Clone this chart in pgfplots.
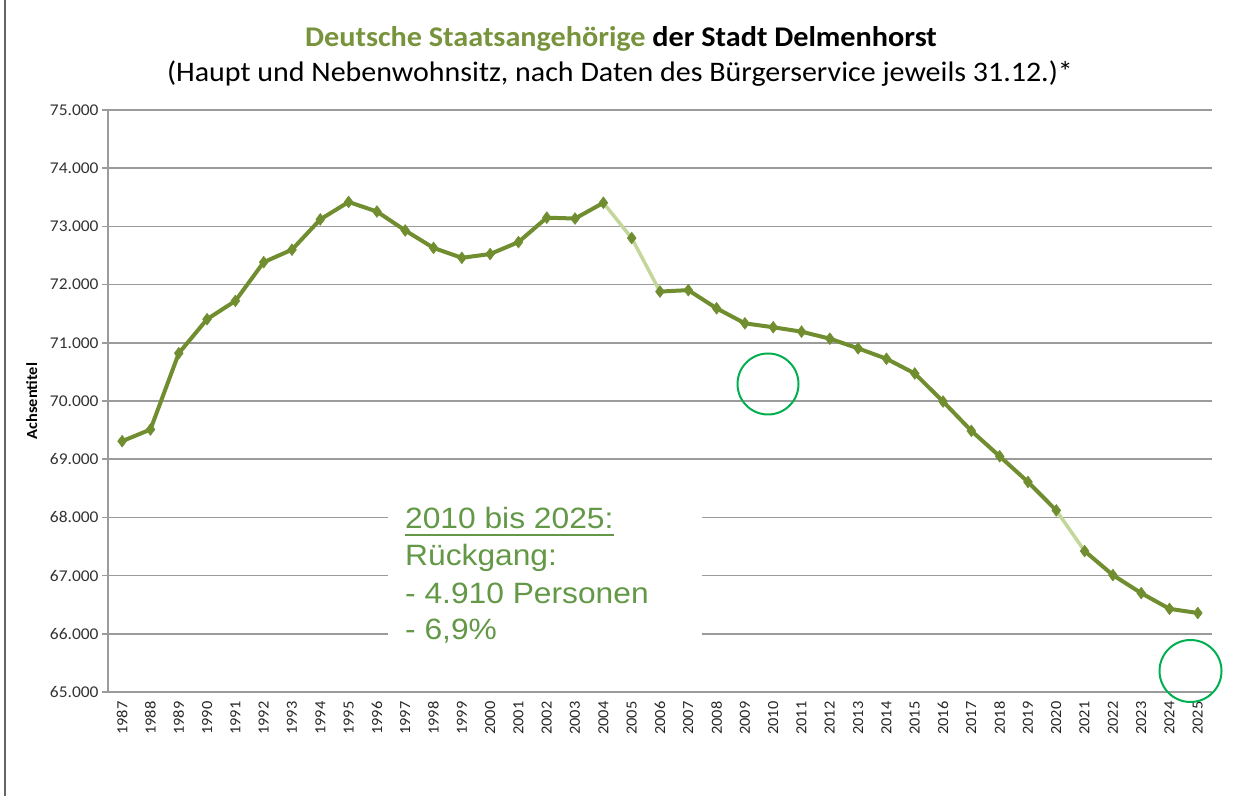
\documentclass[border=0pt]{standalone}
\usepackage{fontspec}
\setmainfont{Carlito}[FakeStretch=1.06]
\newfontfamily\arialf{Liberation Sans}[FakeStretch=1.08]
\usepackage{pgfplots}
\pgfplotsset{compat=1.18}
\usepackage{pgfplotstable}
\definecolor{linegreen}{RGB}{112,142,48}
\definecolor{lightgreen}{RGB}{196,215,155}
\definecolor{titlegreen}{RGB}{119,147,60}
\definecolor{annogreen}{RGB}{98,152,70}
\definecolor{circgreen}{RGB}{0,176,80}
\definecolor{gridgray}{RGB}{155,155,155}

\pgfplotstableread{
year value
1987 69310
1988 69510
1989 70820
1990 71405
1991 71720
1992 72385
1993 72600
1994 73120
1995 73420
1996 73255
1997 72930
1998 72630
1999 72460
2000 72525
2001 72730
2002 73150
2003 73135
2004 73405
2005 72800
2006 71880
2007 71905
2008 71592
2009 71334
2010 71267
2011 71191
2012 71071
2013 70904
2014 70726
2015 70473
2016 69991
2017 69487
2018 69050
2019 68609
2020 68120
2021 67422
2022 67009
2023 66699
2024 66429
2025 66357
}\datatable

\begin{document}
\begin{tikzpicture}
\path[use as bounding box] (0,0) rectangle (1234bp,796bp);
\fill[white] (0,0) rectangle (1234bp,796bp);
\draw[black!60, line width=2bp] (5bp,0) -- (5bp,796bp);

\node[font=\bfseries\fontsize{28.6}{32}\selectfont] at (621bp,757bp)
  {\textcolor{titlegreen}{Deutsche Staatsangehörige} der Stadt Delmenhorst};
\node[font=\fontsize{28.4}{32}\selectfont] at (620bp,722bp)
  {(Haupt und Nebenwohnsitz, nach Daten des Bürgerservice jeweils 31.12.)*};

\begin{axis}[
  at={(108bp,104bp)}, anchor=south west,
  scale only axis, width=1104bp, height=582bp,
  xmin=1986.5, xmax=2025.5, ymin=65000, ymax=75000,
  xtick={1987,...,2025},
  ytick={65000,66000,...,75000},
  scaled y ticks=false,
  axis lines*=left,
  axis line style={gridgray, line width=1.6bp},
  ymajorgrids,
  major grid style={gridgray, line width=1.6bp},
  tick align=outside,
  major tick length=6bp,
  ytick style={gridgray, line width=1.6bp},
  xtick style={draw=none},
  /pgf/number format/assume math mode=true,
  yticklabel style={font=\fontsize{16.5}{17}\selectfont, text=black!80,
    /pgf/number format/1000 sep={.}},
  xticklabel style={font=\fontsize{15.5}{16}\selectfont, text=black!85,
    rotate=90, anchor=east, /pgf/number format/1000 sep={}},
  ylabel={Achsentitel},
  ylabel style={font=\bfseries\fontsize{15.5}{16}\selectfont,
    at={(axis description cs:-0.069,0.5)}, anchor=center},
  line join=round,
]
\addplot[lightgreen, line width=3.5bp, restrict x to domain=2004:2006] table[x=year,y=value] {\datatable};
\addplot[lightgreen, line width=3.5bp, restrict x to domain=2020:2021] table[x=year,y=value] {\datatable};
\addplot[linegreen, line width=4bp, restrict x to domain=1987:2004] table[x=year,y=value] {\datatable};
\addplot[linegreen, line width=4bp, restrict x to domain=2006:2020] table[x=year,y=value] {\datatable};
\addplot[linegreen, line width=4bp, restrict x to domain=2021:2025] table[x=year,y=value] {\datatable};
\addplot[only marks, mark=diamond*, mark size=6bp, color=linegreen] table[x=year,y=value] {\datatable};
\end{axis}

\fill[white] (388bp,146bp) rectangle (702bp,296bp);
\begin{scope}[every node/.style={anchor=base west, inner sep=0pt, text=annogreen,
    font=\arialf\fontsize{29.5}{34}\selectfont}]
\node (l1) at (405bp,267bp) {2010 bis 2025:};
\node at (405bp,230bp) {Rückgang:};
\node at (405bp,192bp) {- 4.910 Personen};
\node at (405bp,156bp) {- 6,9\%};
\end{scope}
\draw[annogreen, line width=2.5bp] ([yshift=-6bp]l1.base west) -- ([yshift=-6bp]l1.base east);

\draw[circgreen, line width=2bp] (768bp,412bp) circle[radius=30.5bp];
\draw[circgreen, line width=2bp] (1190.5bp,125bp) circle[radius=31bp];
\end{tikzpicture}
\end{document}
